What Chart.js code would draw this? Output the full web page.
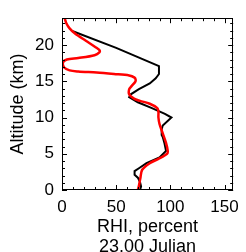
<!DOCTYPE html>
<html>
<head>
<meta charset="utf-8">
<script src="https://cdn.jsdelivr.net/npm/chart.js@4/dist/chart.umd.min.js"></script>
<style>
  html, body { margin: 0; padding: 0; background: #fff; }
  #c { display: block; }
</style>
</head>
<body>
<canvas id="c" width="246" height="252"></canvas>
<script>
// Altitude (km) and RHI (percent) profiles
const blackAlt = [0.0, 0.5, 1.1, 1.7, 2.1, 2.6, 3.0, 3.7, 4.5, 5.4, 6.5, 7.3, 7.6, 8.4, 8.9, 10.0, 10.5, 11.3, 12.1, 12.8, 13.2, 13.9, 14.7, 15.4, 16.0, 17.1, 19.6, 21.9];
const blackRHI = [72, 73, 72, 70, 67, 67, 71, 78, 90, 96, 94.5, 93, 92, 92, 93, 101, 95, 83, 70, 62, 63.5, 71, 81, 86.5, 89.5, 89.5, 50, 10];

const redAlt = [0.0, 0.6, 1.7, 2.8, 3.7, 4.3, 5.0, 5.4, 6.5, 7.8, 9.1, 10.0, 10.8, 11.3, 11.9, 12.3, 12.6, 13.2, 13.9, 14.3, 14.9, 15.2, 15.5, 15.8, 16.0, 16.2, 16.35, 16.5, 16.9, 17.6, 18.0, 18.2, 18.6, 19.0, 19.3, 19.7, 20.6, 21.6, 22.3, 23.0, 23.7];
const redRHI = [70, 71, 72.4, 74, 81, 89, 97, 97.6, 96, 93, 90, 89, 89, 88, 81, 72, 66.5, 62, 62, 64, 67.5, 68, 67, 62, 48, 32, 15, 7, 2, 1, 4.5, 15, 30, 34.5, 34.5, 31, 22, 12, 7, 4, 2.5];

const xTickValues = [0, 50, 100, 150];
const yTickValues = [0, 5, 10, 15, 20];
const xTitle = ['RHI, percent', '23.00 Julian'];
const yTitle = 'Altitude (km)';
const xMin = 0, xMax = 158;
const yMin = 0, yMax = 23.7;

const toPts = (alt, v) => alt.map((a, i) => ({ x: v[i], y: a }));

Chart.defaults.font.family = "'Liberation Sans', Arial, sans-serif";
Chart.defaults.color = '#000';

const frameTicks = {
  id: 'frameTicks',
  afterDatasetsDraw(chart) {
    const { ctx, chartArea: a, scales } = chart;
    const xs = scales.x, ys = scales.y;
    ctx.save();
    ctx.strokeStyle = '#000';
    ctx.lineWidth = 1;
    ctx.beginPath();
    // x ticks every 10, major every 50, on bottom and top
    for (let v = xMin; v <= xMax + 1e-9; v += 10) {
      const px = Math.round(xs.getPixelForValue(v)) + 0.5;
      const len = (v % 50 === 0) ? 5 : 3;
      ctx.moveTo(px, a.bottom); ctx.lineTo(px, a.bottom - len);
      ctx.moveTo(px, a.top); ctx.lineTo(px, a.top + len);
    }
    // y ticks every 1, major every 5, on left and right
    for (let v = yMin; v <= yMax + 1e-9; v += 1) {
      const py = Math.round(ys.getPixelForValue(v)) + 0.5;
      const len = (v % 5 === 0) ? 5 : 3;
      ctx.moveTo(a.left, py); ctx.lineTo(a.left + len, py);
      ctx.moveTo(a.right, py); ctx.lineTo(a.right - len, py);
    }
    ctx.stroke();
    ctx.strokeRect(Math.round(a.left) + 0.5, Math.round(a.top) + 0.5,
                   Math.round(a.right - a.left) - 1, Math.round(a.bottom - a.top) - 1);
    ctx.restore();
  }
};

new Chart(document.getElementById('c'), {
  type: 'scatter',
  data: {
    datasets: [
      {
        label: 'red',
        data: toPts(redAlt, redRHI),
        showLine: true,
        borderColor: '#ff0000',
        borderWidth: 2.5,
        pointRadius: 0,
        tension: 0.3,
        order: 0
      },
      {
        label: 'black',
        data: toPts(blackAlt, blackRHI),
        showLine: true,
        borderColor: '#000000',
        borderWidth: 2,
        pointRadius: 0,
        tension: 0,
        order: 1
      }
    ]
  },
  options: {
    responsive: false,
    animation: false,
    devicePixelRatio: 1,
    layout: { padding: { top: 7.5, right: 6, left: 0, bottom: 0 } },
    plugins: { legend: { display: false }, tooltip: { enabled: false } },
    scales: {
      x: {
        type: 'linear',
        min: xMin, max: xMax,
        grid: { display: false, drawTicks: false },
        border: { display: false },
        afterBuildTicks: s => { s.ticks = xTickValues.map(v => ({ value: v })); },
        afterFit: s => { s.height = 62; },
        ticks: { padding: 7, font: { size: 17 }, color: '#000', maxRotation: 0 },
        title: { display: true, text: xTitle, font: { size: 18, lineHeight: 1.111 }, color: '#000', padding: { top: 0, bottom: -5 } }
      },
      y: {
        type: 'linear',
        min: yMin, max: yMax,
        grid: { display: false, drawTicks: false },
        border: { display: false },
        afterBuildTicks: s => { s.ticks = yTickValues.map(v => ({ value: v })); },
        afterFit: s => { s.width = 62; },
        ticks: { padding: 8, font: { size: 17 }, color: '#000' },
        title: { display: true, text: yTitle, font: { size: 18 }, color: '#000', padding: { top: 7, bottom: 0 } }
      }
    }
  },
  plugins: [frameTicks]
});
</script>
</body>
</html>
